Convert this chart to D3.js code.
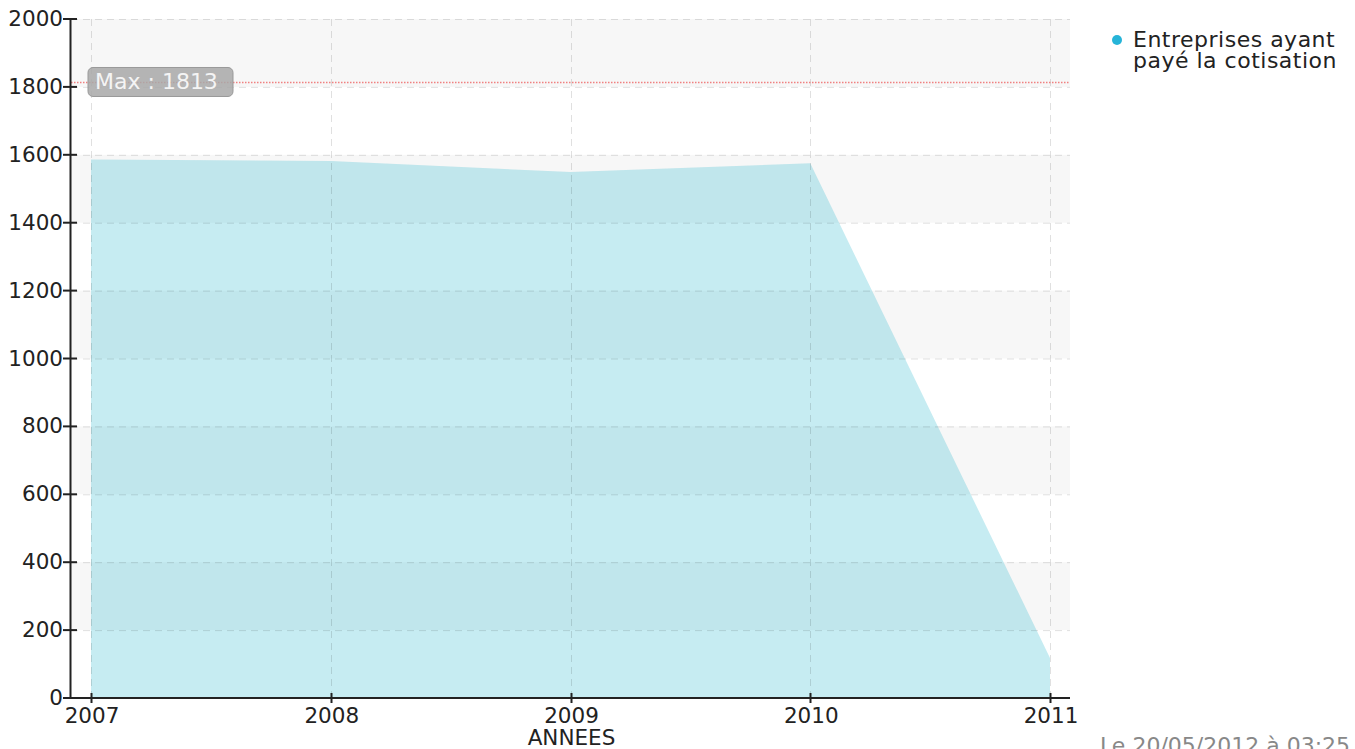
<!DOCTYPE html>
<html>
<head>
<meta charset="utf-8">
<script src="https://cdn.jsdelivr.net/npm/d3@7"></script>
<style>
  body { margin: 0; background: #fff; }
  svg text { font-family: "DejaVu Sans", Verdana, sans-serif; font-size: 21.5px; }
</style>
</head>
<body>
<div id="chart"></div>
<script>
// data
var years = [2007, 2008, 2009, 2010, 2011];
var payees = [1586, 1582, 1549, 1575, 118];
var yTicks = [0, 200, 400, 600, 800, 1000, 1200, 1400, 1600, 1800, 2000];
var maxValue = 1813;
var seriesName = ["Entreprises ayant", "payé la cotisation"];
var xTitle = "ANNEES";
var footer = "Le 20/05/2012 à 03:25";

var width = 1355, height = 749;
var plot = {left: 71, right: 1070, top: 19, bottom: 698};

var svg = d3.select("#chart").append("svg")
    .attr("width", width)
    .attr("height", height);

var x = d3.scaleLinear()
    .domain([d3.min(years), d3.max(years)])
    .range([91, 1050]);

var y = d3.scaleLinear()
    .domain([0, 2000])
    .range([plot.bottom, plot.top]);

// alternating background bands
var bands = d3.range(200, 2000, 400);
svg.selectAll("rect.band")
    .data(bands)
    .enter()
    .append("rect")
    .attr("class", "band")
    .attr("x", plot.left)
    .attr("width", plot.right - plot.left)
    .attr("y", d => y(d + 200))
    .attr("height", d => y(d) - y(d + 200))
    .attr("fill", "#f7f7f7");

// area
var data = years.map((d, i) => ({year: d, value: payees[i]}));
var area = d3.area()
    .x(d => x(d.year))
    .y0(y(0))
    .y1(d => y(d.value));

svg.append("path")
    .datum(data)
    .attr("d", area)
    .attr("fill", "#1ab3cc")
    .attr("fill-opacity", 0.25);

// grid
svg.selectAll("line.hgrid")
    .data(yTicks.filter(d => d > 0))
    .enter()
    .append("line")
    .attr("class", "hgrid")
    .attr("x1", plot.left)
    .attr("x2", plot.right)
    .attr("y1", d => y(d) + 0.5)
    .attr("y2", d => y(d) + 0.5)
    .attr("stroke", "#000")
    .attr("stroke-opacity", 0.12)
    .attr("stroke-dasharray", "7,5");

svg.selectAll("line.vgrid")
    .data(years)
    .enter()
    .append("line")
    .attr("class", "vgrid")
    .attr("x1", d => Math.round(x(d)) + 0.5)
    .attr("x2", d => Math.round(x(d)) + 0.5)
    .attr("y1", plot.top)
    .attr("y2", plot.bottom)
    .attr("stroke", "#000")
    .attr("stroke-opacity", 0.12)
    .attr("stroke-dasharray", "7,5");

// max line
svg.append("line")
    .attr("x1", plot.left)
    .attr("x2", plot.right)
    .attr("y1", y(maxValue))
    .attr("y2", y(maxValue))
    .attr("stroke", "#f08080")
    .attr("stroke-width", 1.5)
    .attr("stroke-dasharray", "1.5,1.5");

var maxLabel = svg.append("g")
    .attr("transform", "translate(88," + (y(maxValue) - 15) + ")");
maxLabel.append("rect")
    .attr("width", 145)
    .attr("height", 29)
    .attr("rx", 5)
    .attr("fill", "#a8a8a8")
    .attr("fill-opacity", 0.85)
    .attr("stroke", "#999");
maxLabel.append("text")
    .attr("x", 7)
    .attr("y", 22)
    .attr("fill", "#f4f4f4")
    .style("font-size", "22px")
    .text("Max : " + maxValue);

// y axis
var yAxis = svg.append("g");
yAxis.append("line")
    .attr("x1", 70.5).attr("x2", 70.5)
    .attr("y1", plot.top).attr("y2", plot.bottom)
    .attr("stroke", "#222").attr("stroke-width", 2);
yAxis.selectAll("line.tick")
    .data(yTicks)
    .enter()
    .append("line")
    .attr("class", "tick")
    .attr("x1", 63).attr("x2", 77)
    .attr("y1", d => y(d)).attr("y2", d => y(d))
    .attr("stroke", "#222").attr("stroke-width", 2);
yAxis.selectAll("text")
    .data(yTicks)
    .enter()
    .append("text")
    .attr("x", 63)
    .attr("y", d => y(d) + 7)
    .attr("text-anchor", "end")
    .attr("fill", "#222")
    .text(d => d);

// x axis
var xAxis = svg.append("g");
xAxis.append("line")
    .attr("x1", plot.left - 1).attr("x2", plot.right)
    .attr("y1", plot.bottom).attr("y2", plot.bottom)
    .attr("stroke", "#222").attr("stroke-width", 2);
xAxis.selectAll("line.tick")
    .data(years)
    .enter()
    .append("line")
    .attr("class", "tick")
    .attr("x1", d => Math.round(x(d)) + 0.5).attr("x2", d => Math.round(x(d)) + 0.5)
    .attr("y1", plot.bottom - 5).attr("y2", plot.bottom + 5)
    .attr("stroke", "#222").attr("stroke-width", 2);
xAxis.selectAll("text")
    .data(years)
    .enter()
    .append("text")
    .attr("x", d => x(d) + 1)
    .attr("y", 723)
    .attr("text-anchor", "middle")
    .attr("fill", "#222")
    .text(d => d);

svg.append("text")
    .attr("x", x(2009) + 1)
    .attr("y", 745)
    .attr("text-anchor", "middle")
    .attr("fill", "#222")
    .text(xTitle);

// legend
svg.append("circle")
    .attr("cx", 1117)
    .attr("cy", 40)
    .attr("r", 5)
    .attr("fill", "#26b4d8");
svg.selectAll("text.legend")
    .data(seriesName)
    .enter()
    .append("text")
    .attr("class", "legend")
    .attr("x", 1133)
    .attr("y", (d, i) => 47 + i * 21)
    .attr("fill", "#222")
    .style("font-size", "22px")
    .style("letter-spacing", "0.5px")
    .text(d => d);

// footer
svg.append("text")
    .attr("x", 1100)
    .attr("y", 753)
    .attr("fill", "#888")
    .style("font-size", "22px")
    .text(footer);
</script>
</body>
</html>
